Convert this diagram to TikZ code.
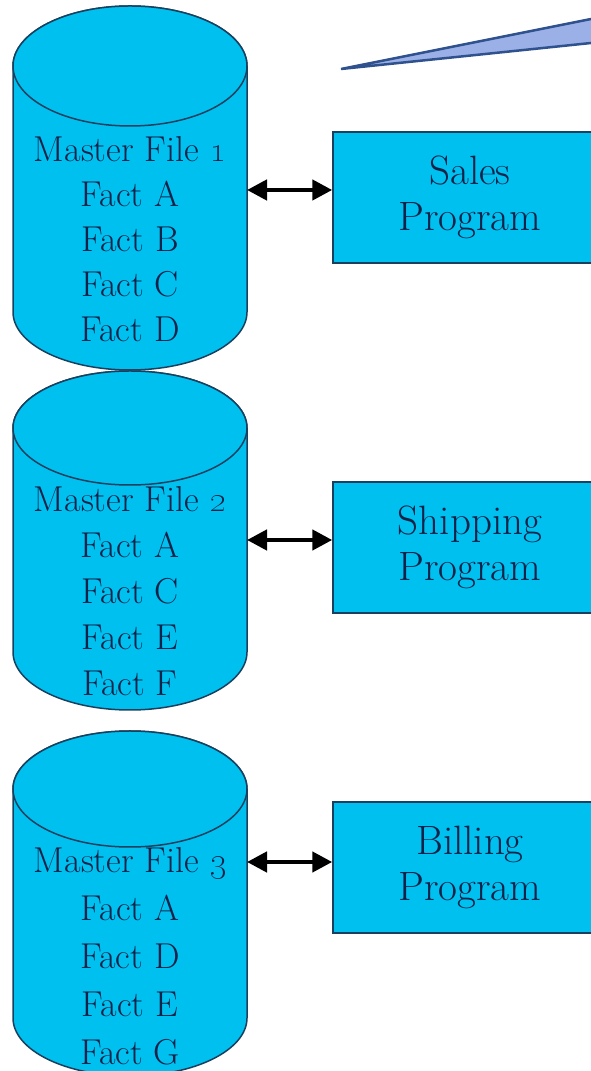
\documentclass[tikz,border=0pt]{standalone}
\usetikzlibrary{arrows.meta}
\definecolor{cyl}{RGB}{0,192,240}
\definecolor{edge}{RGB}{25,65,95}
\definecolor{ink}{RGB}{12,34,72}
\definecolor{callfill}{RGB}{155,176,230}
\definecolor{calledge}{RGB}{47,82,143}
\tikzset{
 cylbody/.style={fill=cyl, draw=edge, line width=1.5pt},
 cyltext/.style={text=ink, align=center, inner sep=0pt, anchor=north, font=\fontsize{36}{45}\selectfont},
 progbox/.style={fill=cyl, draw=edge, line width=1.5pt, minimum width=274pt, minimum height=131pt, inner sep=0pt, text=ink, align=center, font=\fontsize{41}{46}\selectfont},
 link/.style={line width=4.5pt, {Triangle[length=20pt,width=20pt]}-{Triangle[length=20pt,width=20pt]}},
 callout/.style={fill=callfill, draw=calledge, line width=2.5pt, line join=miter}
}
\newcommand{\drawcyl}[3]{%
 \path[cylbody] (13,#1) -- (13,#2) arc[start angle=180,end angle=360,x radius=117,y radius=58] -- (247,#1) arc[start angle=0,end angle=180,x radius=117,y radius=#3] -- cycle;
 \path[cylbody] (130,#1) ellipse[x radius=117,y radius=#3];}
\begin{document}
\begin{tikzpicture}[x=1pt,y=1pt]
\useasboundingbox (0,0) rectangle (591,1071);
\clip (0,0) rectangle (591,1071);
% callout wedge
\path[callout] (341,1002) -- (620,1057.8) -- (620,1031) -- cycle;
% cylinders
\drawcyl{1005}{759}{60}
\drawcyl{643}{419}{57}
\drawcyl{282}{53}{58}
\node[cyltext] (m1) at (130,935) {Master File \oldstylenums{1}\\Fact A\\Fact B\\Fact C\\Fact D};
\node[cyltext, font=\fontsize{36}{46}\selectfont] (m2) at (130,585) {Master File \oldstylenums{2}\\Fact A\\Fact C\\Fact E\\Fact F};
\node[cyltext, font=\fontsize{36}{48}\selectfont] (m3) at (130,224) {Master File \oldstylenums{3}\\Fact A\\Fact D\\Fact E\\Fact G};
\coordinate (c1) at (247,881);
\coordinate (c2) at (247,531);
\coordinate (c3) at (247,209);
% programs
\node[progbox] (sales) at (470,873.5) {Sales\\Program};
\node[progbox] (ship) at (470,523.5) {Shipping\\Program};
\node[progbox] (bill) at (470,203.5) {Billing\\Program};
% links
\draw[link] (c1) -- (sales.west |- c1);
\draw[link] (c2) -- (ship.west |- c2);
\draw[link] (c3) -- (bill.west |- c3);
\end{tikzpicture}
\end{document}
